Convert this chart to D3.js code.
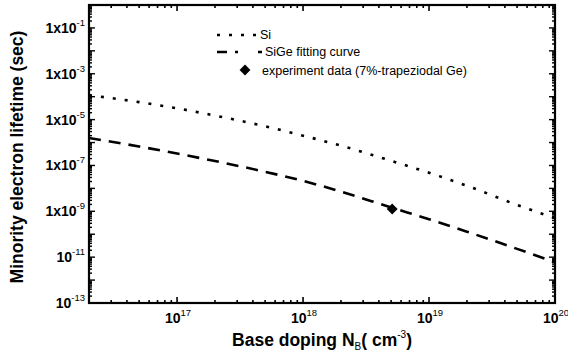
<!DOCTYPE html>
<html>
<head>
<meta charset="utf-8">
<script src="https://cdn.jsdelivr.net/npm/d3@7"></script>
<style>
  html, body { margin: 0; padding: 0; background: #fff; }
  svg { display: block; }
  text { font-family: "Liberation Sans", Arial, sans-serif; fill: #000; }
</style>
</head>
<body>
<svg id="chart" width="568" height="358"></svg>
<script>
// ---- data ----
const dopingLevels = [2e16, 5e16, 1e17, 2e17, 5e17, 1e18, 2e18, 5e18, 1e19, 2e19, 5e19, 1e20];
const siLifetime   = [1.17e-4, 5.8e-5, 3.1e-5, 1.5e-5, 5.1e-6, 2.0e-6, 7.3e-7, 1.6e-7, 4.8e-8, 1.3e-8, 1.9e-9, 5.0e-10];
const sigeLifetime = [1.58e-6, 6.7e-7, 3.3e-7, 1.56e-7, 5.3e-8, 2.13e-8, 7.3e-9, 1.47e-9, 4.5e-10, 1.29e-10, 2.3e-11, 6.0e-12];
const expDoping    = [5.1e18];
const expLifetime  = [1.26e-9];
const xTickExps    = [17, 18, 19, 20];
const yTickExps    = [-1, -3, -5, -7, -9, -11, -13];
const yTickPrefix  = ["1x10", "1x10", "1x10", "1x10", "1x10", "10", "10"];
const legendLabels = ["Si", "SiGe fitting curve", "experiment data (7%-trapeziodal Ge)"];

const svg = d3.select("#chart");
const L = 89, R = 555, T = 5, B = 303;

const x = d3.scaleLog().domain([2e16, 1e20]).range([L, R]);
const y = d3.scaleLog().domain([1e-13, 1e0]).range([B, T]);

// ---- ticks (inward, on all four sides) ----
const g = svg.append("g");
const xMinor = [], yMinor = [];
for (let e = 16; e < 20; e++) for (let m = 1; m < 10; m++) {
  const v = m * Math.pow(10, e);
  if (v >= 2e16 && v <= 1e20) xMinor.push({v, major: m === 1});
}
xMinor.push({v: 1e20, major: true});
for (let e = -13; e < 0; e++) for (let m = 1; m < 10; m++) {
  yMinor.push({v: m * Math.pow(10, e), major: m === 1});
}
yMinor.push({v: 1, major: true});

xMinor.forEach(d => {
  const px = x(d.v), len = d.major ? 6 : 3;
  g.append("line").attr("x1", px).attr("x2", px).attr("y1", B).attr("y2", B - len)
    .attr("stroke", "#000").attr("stroke-width", 1.6);
  g.append("line").attr("x1", px).attr("x2", px).attr("y1", T).attr("y2", T + len)
    .attr("stroke", "#000").attr("stroke-width", 1.6);
});
yMinor.forEach(d => {
  const py = y(d.v);
  const len = d.major ? 6 : 3;
  g.append("line").attr("x1", L).attr("x2", L + len).attr("y1", py).attr("y2", py)
    .attr("stroke", "#000").attr("stroke-width", 1.4);
  g.append("line").attr("x1", R).attr("x2", R - len).attr("y1", py).attr("y2", py)
    .attr("stroke", "#000").attr("stroke-width", 1.4);
});

// frame
svg.append("rect").attr("x", L).attr("y", T).attr("width", R - L).attr("height", B - T)
  .attr("fill", "none").attr("stroke", "#000").attr("stroke-width", 2.2);

// ---- tick labels ----
xTickExps.forEach(e => {
  const t = svg.append("text").attr("x", x(Math.pow(10, e)) + 1).attr("y", 323)
    .attr("text-anchor", "middle").attr("font-size", 14).attr("font-weight", "bold");
  t.append("tspan").text("10");
  t.append("tspan").attr("dy", -7).attr("font-size", 9.5).attr("font-weight", "normal").text(String(e));
});
yTickExps.forEach((e, i) => {
  const t = svg.append("text").attr("x", 85).attr("y", y(Math.pow(10, e)) + 5)
    .attr("text-anchor", "end").attr("font-size", 14).attr("font-weight", "bold");
  t.append("tspan").text(yTickPrefix[i]);
  t.append("tspan").attr("dy", -7).attr("font-size", 9.5).attr("font-weight", "normal").text(String(e));
});

// ---- axis titles ----
const xt = svg.append("text").attr("x", 322).attr("y", 346).attr("text-anchor", "middle")
  .attr("font-size", 17.5).attr("font-weight", "bold");
xt.append("tspan").text("Base doping N");
xt.append("tspan").attr("dy", 4).attr("font-size", 10).attr("font-weight", "normal").text("B");
xt.append("tspan").attr("dy", -4).text("( cm");
xt.append("tspan").attr("dy", -8).attr("font-size", 10).attr("font-weight", "normal").text("-3");
xt.append("tspan").attr("dy", 8).text(")");

svg.append("text").attr("transform", "translate(23,157) rotate(-90)")
  .attr("text-anchor", "middle").attr("font-size", 17.5).attr("font-weight", "bold")
  .text("Minority electron lifetime (sec)");

// ---- curves ----
const line = d3.line().x(d => x(d[0])).y(d => y(d[1])).curve(d3.curveMonotoneX);
svg.append("path").datum(dopingLevels.map((v, i) => [v, siLifetime[i]]))
  .attr("d", line).attr("fill", "none").attr("stroke", "#000")
  .attr("stroke-width", 2.6).attr("stroke-dasharray", "3,9");
svg.append("path").datum(dopingLevels.map((v, i) => [v, sigeLifetime[i]]))
  .attr("d", line).attr("fill", "none").attr("stroke", "#000")
  .attr("stroke-width", 2.6).attr("stroke-dasharray", "12,8");

const diamond = d3.symbol().type(d3.symbolDiamond2).size(75);
svg.selectAll(".exp").data(expDoping.map((v, i) => [v, expLifetime[i]])).enter()
  .append("path").attr("class", "exp").attr("d", diamond)
  .attr("transform", d => `translate(${x(d[0])},${y(d[1])})`).attr("fill", "#000");

// ---- legend ----
svg.append("line").attr("x1", 217).attr("x2", 256).attr("y1", 35).attr("y2", 35)
  .attr("stroke", "#000").attr("stroke-width", 2.6).attr("stroke-dasharray", "3,9");
svg.append("line").attr("x1", 217).attr("x2", 262).attr("y1", 52).attr("y2", 52)
  .attr("stroke", "#000").attr("stroke-width", 2.6).attr("stroke-dasharray", "10,8,3,20");
svg.append("path").attr("d", diamond).attr("transform", "translate(245,70)").attr("fill", "#000");
const lx = [260, 265, 262], ly = [39, 56, 74.5];
legendLabels.forEach((s, i) => {
  svg.append("text").attr("x", lx[i]).attr("y", ly[i]).attr("font-size", 12.5).text(s);
});
</script>
</body>
</html>
